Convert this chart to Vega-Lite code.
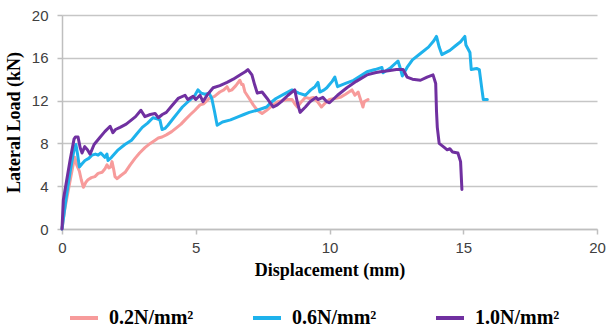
{
  "$schema": "https://vega.github.io/schema/vega-lite/v6.json",
  "width": 535,
  "height": 214,
  "autosize": {"type": "none"},
  "padding": {"left": 62, "top": 15, "right": 17, "bottom": 100},
  "background": "white",
  "data": {
    "values": [
      {"s":"0.2N/mm²","d":0,"load":0},{"s":"0.2N/mm²","d":0.1,"load":1.8},{"s":"0.2N/mm²","d":0.25,"load":3.8},{"s":"0.2N/mm²","d":0.4,"load":5.8},{"s":"0.2N/mm²","d":0.48,"load":6.7},{"s":"0.2N/mm²","d":0.55,"load":6.0},{"s":"0.2N/mm²","d":0.65,"load":5.4},{"s":"0.2N/mm²","d":0.72,"load":4.6},{"s":"0.2N/mm²","d":0.8,"load":3.9},{"s":"0.2N/mm²","d":0.9,"load":4.4},{"s":"0.2N/mm²","d":0.97,"load":4.6},{"s":"0.2N/mm²","d":1.1,"load":4.8},{"s":"0.2N/mm²","d":1.23,"load":4.9},{"s":"0.2N/mm²","d":1.35,"load":5.2},{"s":"0.2N/mm²","d":1.5,"load":5.3},{"s":"0.2N/mm²","d":1.6,"load":5.6},{"s":"0.2N/mm²","d":1.68,"load":6.0},{"s":"0.2N/mm²","d":1.75,"load":5.7},{"s":"0.2N/mm²","d":1.82,"load":5.8},{"s":"0.2N/mm²","d":1.87,"load":6.3},{"s":"0.2N/mm²","d":1.93,"load":5.6},{"s":"0.2N/mm²","d":1.98,"load":4.9},{"s":"0.2N/mm²","d":2.06,"load":4.7},{"s":"0.2N/mm²","d":2.2,"load":5.0},{"s":"0.2N/mm²","d":2.36,"load":5.3},{"s":"0.2N/mm²","d":2.55,"load":6.0},{"s":"0.2N/mm²","d":2.73,"load":6.6},{"s":"0.2N/mm²","d":2.9,"load":7.1},{"s":"0.2N/mm²","d":3.1,"load":7.6},{"s":"0.2N/mm²","d":3.3,"load":8.0},{"s":"0.2N/mm²","d":3.48,"load":8.3},{"s":"0.2N/mm²","d":3.6,"load":8.5},{"s":"0.2N/mm²","d":3.74,"load":8.6},{"s":"0.2N/mm²","d":3.9,"load":8.8},{"s":"0.2N/mm²","d":4.1,"load":9.1},{"s":"0.2N/mm²","d":4.3,"load":9.5},{"s":"0.2N/mm²","d":4.45,"load":9.8},{"s":"0.2N/mm²","d":4.6,"load":10.2},{"s":"0.2N/mm²","d":4.8,"load":10.7},{"s":"0.2N/mm²","d":4.97,"load":11.1},{"s":"0.2N/mm²","d":5.16,"load":11.6},{"s":"0.2N/mm²","d":5.3,"load":11.7},{"s":"0.2N/mm²","d":5.5,"load":12.2},{"s":"0.2N/mm²","d":5.7,"load":12.4},{"s":"0.2N/mm²","d":5.9,"load":12.8},{"s":"0.2N/mm²","d":6.05,"load":13.0},{"s":"0.2N/mm²","d":6.17,"load":13.3},{"s":"0.2N/mm²","d":6.25,"load":12.9},{"s":"0.2N/mm²","d":6.35,"load":13.0},{"s":"0.2N/mm²","d":6.5,"load":13.4},{"s":"0.2N/mm²","d":6.65,"load":13.9},{"s":"0.2N/mm²","d":6.72,"load":13.5},{"s":"0.2N/mm²","d":6.77,"load":13.5},{"s":"0.2N/mm²","d":6.84,"load":12.8},{"s":"0.2N/mm²","d":7.0,"load":12.2},{"s":"0.2N/mm²","d":7.15,"load":11.6},{"s":"0.2N/mm²","d":7.3,"load":11.1},{"s":"0.2N/mm²","d":7.48,"load":10.8},{"s":"0.2N/mm²","d":7.65,"load":11.1},{"s":"0.2N/mm²","d":7.85,"load":11.5},{"s":"0.2N/mm²","d":8.07,"load":11.9},{"s":"0.2N/mm²","d":8.25,"load":12.0},{"s":"0.2N/mm²","d":8.4,"load":12.1},{"s":"0.2N/mm²","d":8.6,"load":12.1},{"s":"0.2N/mm²","d":8.7,"load":11.7},{"s":"0.2N/mm²","d":8.8,"load":11.4},{"s":"0.2N/mm²","d":8.95,"load":11.9},{"s":"0.2N/mm²","d":9.1,"load":12.3},{"s":"0.2N/mm²","d":9.25,"load":12.2},{"s":"0.2N/mm²","d":9.4,"load":12.3},{"s":"0.2N/mm²","d":9.55,"load":11.9},{"s":"0.2N/mm²","d":9.7,"load":11.4},{"s":"0.2N/mm²","d":9.85,"load":11.8},{"s":"0.2N/mm²","d":10.0,"load":12.1},{"s":"0.2N/mm²","d":10.2,"load":12.2},{"s":"0.2N/mm²","d":10.4,"load":12.3},{"s":"0.2N/mm²","d":10.6,"load":12.6},{"s":"0.2N/mm²","d":10.84,"load":13.0},{"s":"0.2N/mm²","d":10.95,"load":12.5},{"s":"0.2N/mm²","d":11.07,"load":12.8},{"s":"0.2N/mm²","d":11.12,"load":12.4},{"s":"0.2N/mm²","d":11.2,"load":11.8},{"s":"0.2N/mm²","d":11.25,"load":11.4},{"s":"0.2N/mm²","d":11.3,"load":11.9},{"s":"0.2N/mm²","d":11.44,"load":12.1},

      {"s":"0.6N/mm²","d":0,"load":0},{"s":"0.6N/mm²","d":0.15,"load":2.8},{"s":"0.6N/mm²","d":0.3,"load":5.3},{"s":"0.6N/mm²","d":0.45,"load":7.4},{"s":"0.6N/mm²","d":0.52,"load":7.9},{"s":"0.6N/mm²","d":0.58,"load":7.0},{"s":"0.6N/mm²","d":0.65,"load":5.8},{"s":"0.6N/mm²","d":0.75,"load":6.1},{"s":"0.6N/mm²","d":0.86,"load":6.4},{"s":"0.6N/mm²","d":1.0,"load":6.6},{"s":"0.6N/mm²","d":1.12,"load":6.9},{"s":"0.6N/mm²","d":1.25,"load":7.0},{"s":"0.6N/mm²","d":1.35,"load":6.9},{"s":"0.6N/mm²","d":1.45,"load":7.1},{"s":"0.6N/mm²","d":1.6,"load":6.7},{"s":"0.6N/mm²","d":1.68,"load":7.0},{"s":"0.6N/mm²","d":1.72,"load":6.4},{"s":"0.6N/mm²","d":1.85,"load":6.7},{"s":"0.6N/mm²","d":2.1,"load":7.4},{"s":"0.6N/mm²","d":2.35,"load":7.9},{"s":"0.6N/mm²","d":2.6,"load":8.3},{"s":"0.6N/mm²","d":2.8,"load":8.9},{"s":"0.6N/mm²","d":3.0,"load":9.5},{"s":"0.6N/mm²","d":3.2,"load":9.9},{"s":"0.6N/mm²","d":3.4,"load":10.4},{"s":"0.6N/mm²","d":3.55,"load":10.3},{"s":"0.6N/mm²","d":3.66,"load":10.2},{"s":"0.6N/mm²","d":3.74,"load":9.3},{"s":"0.6N/mm²","d":3.85,"load":9.4},{"s":"0.6N/mm²","d":3.96,"load":9.7},{"s":"0.6N/mm²","d":4.15,"load":10.3},{"s":"0.6N/mm²","d":4.34,"load":10.9},{"s":"0.6N/mm²","d":4.5,"load":11.4},{"s":"0.6N/mm²","d":4.67,"load":11.8},{"s":"0.6N/mm²","d":4.85,"load":12.2},{"s":"0.6N/mm²","d":4.97,"load":12.5},{"s":"0.6N/mm²","d":5.08,"load":13.0},{"s":"0.6N/mm²","d":5.2,"load":12.7},{"s":"0.6N/mm²","d":5.35,"load":12.6},{"s":"0.6N/mm²","d":5.5,"load":12.7},{"s":"0.6N/mm²","d":5.6,"load":12.2},{"s":"0.6N/mm²","d":5.7,"load":11.0},{"s":"0.6N/mm²","d":5.8,"load":9.7},{"s":"0.6N/mm²","d":6.0,"load":10.0},{"s":"0.6N/mm²","d":6.3,"load":10.2},{"s":"0.6N/mm²","d":6.6,"load":10.5},{"s":"0.6N/mm²","d":6.8,"load":10.7},{"s":"0.6N/mm²","d":7.0,"load":10.9},{"s":"0.6N/mm²","d":7.3,"load":11.1},{"s":"0.6N/mm²","d":7.65,"load":11.4},{"s":"0.6N/mm²","d":7.8,"load":11.8},{"s":"0.6N/mm²","d":8.0,"load":12.2},{"s":"0.6N/mm²","d":8.3,"load":12.6},{"s":"0.6N/mm²","d":8.6,"load":13.0},{"s":"0.6N/mm²","d":8.85,"load":12.7},{"s":"0.6N/mm²","d":9.1,"load":12.5},{"s":"0.6N/mm²","d":9.3,"load":13.0},{"s":"0.6N/mm²","d":9.46,"load":13.3},{"s":"0.6N/mm²","d":9.57,"load":13.7},{"s":"0.6N/mm²","d":9.64,"load":12.8},{"s":"0.6N/mm²","d":9.8,"load":13.0},{"s":"0.6N/mm²","d":9.9,"load":13.2},{"s":"0.6N/mm²","d":10.0,"load":13.5},{"s":"0.6N/mm²","d":10.1,"load":13.8},{"s":"0.6N/mm²","d":10.2,"load":14.2},{"s":"0.6N/mm²","d":10.3,"load":13.3},{"s":"0.6N/mm²","d":10.6,"load":13.6},{"s":"0.6N/mm²","d":10.9,"load":13.9},{"s":"0.6N/mm²","d":11.15,"load":14.3},{"s":"0.6N/mm²","d":11.4,"load":14.7},{"s":"0.6N/mm²","d":11.7,"load":14.9},{"s":"0.6N/mm²","d":11.96,"load":15.1},{"s":"0.6N/mm²","d":12.0,"load":14.6},{"s":"0.6N/mm²","d":12.3,"load":15.1},{"s":"0.6N/mm²","d":12.56,"load":15.7},{"s":"0.6N/mm²","d":12.65,"load":15.0},{"s":"0.6N/mm²","d":12.72,"load":14.3},{"s":"0.6N/mm²","d":12.9,"load":15.1},{"s":"0.6N/mm²","d":13.1,"load":15.8},{"s":"0.6N/mm²","d":13.4,"load":16.4},{"s":"0.6N/mm²","d":13.7,"load":17.0},{"s":"0.6N/mm²","d":13.9,"load":17.6},{"s":"0.6N/mm²","d":14.0,"load":18.0},{"s":"0.6N/mm²","d":14.1,"load":17.0},{"s":"0.6N/mm²","d":14.2,"load":16.3},{"s":"0.6N/mm²","d":14.5,"load":16.7},{"s":"0.6N/mm²","d":14.7,"load":17.1},{"s":"0.6N/mm²","d":14.9,"load":17.5},{"s":"0.6N/mm²","d":15.06,"load":18.0},{"s":"0.6N/mm²","d":15.1,"load":17.2},{"s":"0.6N/mm²","d":15.25,"load":16.5},{"s":"0.6N/mm²","d":15.3,"load":14.9},{"s":"0.6N/mm²","d":15.5,"load":15.0},{"s":"0.6N/mm²","d":15.6,"load":14.9},{"s":"0.6N/mm²","d":15.7,"load":13.0},{"s":"0.6N/mm²","d":15.75,"load":12.1},{"s":"0.6N/mm²","d":15.9,"load":12.1},

      {"s":"1.0N/mm²","d":0,"load":0},{"s":"1.0N/mm²","d":0.05,"load":2.7},{"s":"1.0N/mm²","d":0.3,"load":6.4},{"s":"1.0N/mm²","d":0.45,"load":8.4},{"s":"1.0N/mm²","d":0.5,"load":8.6},{"s":"1.0N/mm²","d":0.6,"load":8.6},{"s":"1.0N/mm²","d":0.68,"load":7.6},{"s":"1.0N/mm²","d":0.75,"load":7.1},{"s":"1.0N/mm²","d":0.85,"load":7.7},{"s":"1.0N/mm²","d":0.95,"load":7.4},{"s":"1.0N/mm²","d":1.05,"load":7.0},{"s":"1.0N/mm²","d":1.2,"load":7.9},{"s":"1.0N/mm²","d":1.4,"load":8.5},{"s":"1.0N/mm²","d":1.6,"load":9.1},{"s":"1.0N/mm²","d":1.8,"load":9.6},{"s":"1.0N/mm²","d":1.9,"load":9.0},{"s":"1.0N/mm²","d":2.0,"load":9.3},{"s":"1.0N/mm²","d":2.17,"load":9.5},{"s":"1.0N/mm²","d":2.4,"load":9.8},{"s":"1.0N/mm²","d":2.6,"load":10.2},{"s":"1.0N/mm²","d":2.75,"load":10.5},{"s":"1.0N/mm²","d":2.95,"load":11.1},{"s":"1.0N/mm²","d":3.1,"load":10.5},{"s":"1.0N/mm²","d":3.3,"load":10.7},{"s":"1.0N/mm²","d":3.48,"load":10.8},{"s":"1.0N/mm²","d":3.6,"load":10.4},{"s":"1.0N/mm²","d":3.75,"load":10.7},{"s":"1.0N/mm²","d":3.9,"load":10.9},{"s":"1.0N/mm²","d":4.1,"load":11.5},{"s":"1.0N/mm²","d":4.34,"load":12.2},{"s":"1.0N/mm²","d":4.6,"load":12.5},{"s":"1.0N/mm²","d":4.7,"load":12.1},{"s":"1.0N/mm²","d":4.9,"load":12.4},{"s":"1.0N/mm²","d":5.0,"load":12.1},{"s":"1.0N/mm²","d":5.16,"load":12.5},{"s":"1.0N/mm²","d":5.27,"load":11.9},{"s":"1.0N/mm²","d":5.45,"load":12.6},{"s":"1.0N/mm²","d":5.65,"load":13.2},{"s":"1.0N/mm²","d":5.9,"load":13.4},{"s":"1.0N/mm²","d":6.17,"load":13.7},{"s":"1.0N/mm²","d":6.4,"load":14.0},{"s":"1.0N/mm²","d":6.65,"load":14.4},{"s":"1.0N/mm²","d":6.85,"load":14.7},{"s":"1.0N/mm²","d":6.95,"load":14.9},{"s":"1.0N/mm²","d":7.1,"load":14.4},{"s":"1.0N/mm²","d":7.2,"load":13.5},{"s":"1.0N/mm²","d":7.3,"load":12.7},{"s":"1.0N/mm²","d":7.48,"load":12.8},{"s":"1.0N/mm²","d":7.7,"load":12.1},{"s":"1.0N/mm²","d":7.9,"load":11.4},{"s":"1.0N/mm²","d":8.05,"load":11.6},{"s":"1.0N/mm²","d":8.2,"load":11.9},{"s":"1.0N/mm²","d":8.45,"load":12.5},{"s":"1.0N/mm²","d":8.7,"load":13.0},{"s":"1.0N/mm²","d":8.8,"load":11.8},{"s":"1.0N/mm²","d":8.9,"load":10.9},{"s":"1.0N/mm²","d":9.1,"load":11.4},{"s":"1.0N/mm²","d":9.27,"load":11.9},{"s":"1.0N/mm²","d":9.5,"load":12.3},{"s":"1.0N/mm²","d":9.57,"load":12.1},{"s":"1.0N/mm²","d":9.75,"load":12.3},{"s":"1.0N/mm²","d":9.9,"load":11.9},{"s":"1.0N/mm²","d":10.0,"load":11.8},{"s":"1.0N/mm²","d":10.3,"load":12.5},{"s":"1.0N/mm²","d":10.65,"load":13.2},{"s":"1.0N/mm²","d":11.0,"load":13.8},{"s":"1.0N/mm²","d":11.4,"load":14.4},{"s":"1.0N/mm²","d":11.7,"load":14.6},{"s":"1.0N/mm²","d":11.9,"load":14.7},{"s":"1.0N/mm²","d":12.2,"load":14.8},{"s":"1.0N/mm²","d":12.5,"load":14.9},{"s":"1.0N/mm²","d":12.75,"load":14.9},{"s":"1.0N/mm²","d":12.9,"load":14.2},{"s":"1.0N/mm²","d":13.1,"load":14.0},{"s":"1.0N/mm²","d":13.4,"load":13.9},{"s":"1.0N/mm²","d":13.65,"load":14.2},{"s":"1.0N/mm²","d":13.87,"load":14.4},{"s":"1.0N/mm²","d":13.97,"load":13.6},{"s":"1.0N/mm²","d":14.0,"load":11.0},{"s":"1.0N/mm²","d":14.03,"load":9.5},{"s":"1.0N/mm²","d":14.1,"load":8.0},{"s":"1.0N/mm²","d":14.3,"load":7.6},{"s":"1.0N/mm²","d":14.4,"load":7.4},{"s":"1.0N/mm²","d":14.5,"load":7.5},{"s":"1.0N/mm²","d":14.6,"load":7.2},{"s":"1.0N/mm²","d":14.8,"load":7.1},{"s":"1.0N/mm²","d":14.9,"load":6.3},{"s":"1.0N/mm²","d":14.95,"load":3.7}
    ]
  },
  "mark": {"type": "line", "strokeWidth": 3, "strokeJoin": "round", "strokeCap": "round"},
  "encoding": {
    "x": {
      "field": "d", "type": "quantitative",
      "scale": {"domain": [0, 20], "nice": false},
      "axis": {
        "values": [0, 5, 10, 15, 20], "grid": false, "labelFlush": false, "labelOverlap": false,
        "title": "Displacement (mm)",
        "titleFont": "Liberation Serif", "titleFontSize": 18, "titleFontWeight": "bold", "titleColor": "#000000", "titlePadding": 6,
        "labelFont": "Liberation Sans", "labelFontSize": 15, "labelColor": "#404040", "labelPadding": 6,
        "domainColor": "#bfbfbf", "domainWidth": 1.5, "tickColor": "#bfbfbf", "tickSize": 5, "tickWidth": 1.5
      }
    },
    "y": {
      "field": "load", "type": "quantitative",
      "scale": {"domain": [0, 20], "nice": false},
      "axis": {
        "values": [0, 4, 8, 12, 16, 20], "grid": true, "gridColor": "#c6c6c6", "gridWidth": 1.5, "labelFlush": false, "labelOverlap": false,
        "title": "Lateral Load (kN)",
        "titleFont": "Liberation Serif", "titleFontSize": 18, "titleFontWeight": "bold", "titleColor": "#000000", "titlePadding": 8,
        "labelFont": "Liberation Sans", "labelFontSize": 15, "labelColor": "#404040", "labelPadding": 9,
        "domainColor": "#bfbfbf", "domainWidth": 1.5, "tickColor": "#bfbfbf", "tickSize": 5, "tickWidth": 1.5
      }
    },
    "color": {
      "field": "s", "type": "nominal",
      "scale": {"domain": ["0.2N/mm²", "0.6N/mm²", "1.0N/mm²"], "range": ["#f79b9b", "#1eb2ec", "#7030a0"]},
      "legend": {
        "title": null, "orient": "none", "direction": "horizontal", "columns": 3,
        "legendX": 6, "legendY": 287, "padding": 0,
        "symbolType": "stroke", "symbolSize": 784, "symbolStrokeWidth": 4,
        "labelFont": "Liberation Serif", "labelFontSize": 20, "labelFontWeight": "bold", "labelColor": "#000000",
        "labelOffset": 9, "columnPadding": 51, "gridAlign": "all", "labelLimit": 200
      }
    }
  },
  "config": {"view": {"stroke": null}}
}
